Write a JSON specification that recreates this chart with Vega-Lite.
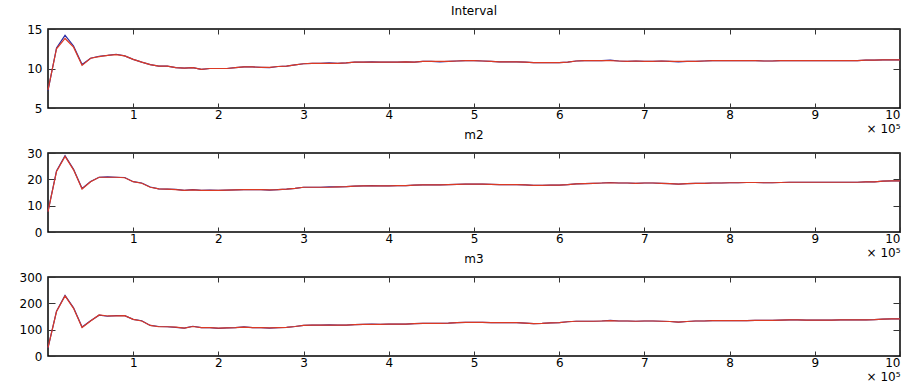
{
  "$schema": "https://vega.github.io/schema/vega-lite/v6.json",
  "padding": {"left": 18, "top": 4, "right": 2, "bottom": 0},
  "config": {
    "font": "DejaVu Sans",
    "view": {"stroke": "#000", "strokeWidth": 1.5},
    "axis": {"domain": false, "grid": false, "tickColor": "#333", "tickWidth": 1, "labelFontSize": 12, "labelColor": "#000", "labelFont": "DejaVu Sans"},
    "title": {"fontSize": 12, "fontWeight": "normal", "font": "DejaVu Sans", "offset": 5, "color": "#000"},
    "concat": {"spacing": -7}
  },
  "datasets": {
    "d": [
      {"x": 0, "int_blue": 7.2, "int_red": 7.3, "m2_blue": 7.8, "m2_red": 7.7, "m3_blue": 31, "m3_red": 32},
      {"x": 10000, "int_blue": 12.6, "int_red": 12.5, "m2_blue": 23.2, "m2_red": 23.0, "m3_blue": 170, "m3_red": 169},
      {"x": 20000, "int_blue": 14.2, "int_red": 13.8, "m2_blue": 29.0, "m2_red": 28.7, "m3_blue": 230, "m3_red": 228},
      {"x": 30000, "int_blue": 12.85, "int_red": 12.7, "m2_blue": 23.8, "m2_red": 23.6, "m3_blue": 183, "m3_red": 181},
      {"x": 40000, "int_blue": 10.5, "int_red": 10.4, "m2_blue": 16.5, "m2_red": 16.3, "m3_blue": 110, "m3_red": 108},
      {"x": 50000, "int_blue": 11.3, "int_red": 11.3, "m2_blue": 19.2, "m2_red": 19.1, "m3_blue": 134, "m3_red": 133},
      {"x": 60000, "int_blue": 11.55, "int_red": 11.5, "m2_blue": 20.8, "m2_red": 20.8, "m3_blue": 155, "m3_red": 156},
      {"x": 70000, "int_blue": 11.65, "int_red": 11.65, "m2_blue": 20.9, "m2_red": 20.8, "m3_blue": 151, "m3_red": 152},
      {"x": 80000, "int_blue": 11.8, "int_red": 11.75, "m2_blue": 20.8, "m2_red": 20.8, "m3_blue": 153, "m3_red": 152},
      {"x": 90000, "int_blue": 11.6, "int_red": 11.6, "m2_blue": 20.7, "m2_red": 20.6, "m3_blue": 153, "m3_red": 153},
      {"x": 100000, "int_blue": 11.15, "int_red": 11.15, "m2_blue": 19.1, "m2_red": 19.1, "m3_blue": 139, "m3_red": 139},
      {"x": 110000, "int_blue": 10.8, "int_red": 10.8, "m2_blue": 18.6, "m2_red": 18.5, "m3_blue": 134, "m3_red": 133},
      {"x": 120000, "int_blue": 10.5, "int_red": 10.5, "m2_blue": 17.1, "m2_red": 17.0, "m3_blue": 116, "m3_red": 116},
      {"x": 130000, "int_blue": 10.3, "int_red": 10.3, "m2_blue": 16.4, "m2_red": 16.4, "m3_blue": 112, "m3_red": 111},
      {"x": 140000, "int_blue": 10.3, "int_red": 10.3, "m2_blue": 16.3, "m2_red": 16.3, "m3_blue": 111, "m3_red": 111},
      {"x": 150000, "int_blue": 10.1, "int_red": 10.1, "m2_blue": 16.2, "m2_red": 16.1, "m3_blue": 109, "m3_red": 110},
      {"x": 160000, "int_blue": 10.05, "int_red": 10.05, "m2_blue": 15.8, "m2_red": 15.8, "m3_blue": 106, "m3_red": 106},
      {"x": 170000, "int_blue": 10.1, "int_red": 10.1, "m2_blue": 16.1, "m2_red": 16.0, "m3_blue": 113, "m3_red": 112},
      {"x": 180000, "int_blue": 9.9, "int_red": 9.9, "m2_blue": 15.8, "m2_red": 15.8, "m3_blue": 108, "m3_red": 108},
      {"x": 190000, "int_blue": 10.0, "int_red": 10.0, "m2_blue": 15.9, "m2_red": 15.8, "m3_blue": 108, "m3_red": 108},
      {"x": 200000, "int_blue": 10.0, "int_red": 10.0, "m2_blue": 15.8, "m2_red": 15.8, "m3_blue": 105, "m3_red": 106},
      {"x": 210000, "int_blue": 10.0, "int_red": 10.0, "m2_blue": 15.9, "m2_red": 15.9, "m3_blue": 107, "m3_red": 107},
      {"x": 220000, "int_blue": 10.1, "int_red": 10.1, "m2_blue": 16.0, "m2_red": 16.0, "m3_blue": 108, "m3_red": 108},
      {"x": 230000, "int_blue": 10.2, "int_red": 10.2, "m2_blue": 16.1, "m2_red": 16.1, "m3_blue": 111, "m3_red": 110},
      {"x": 240000, "int_blue": 10.2, "int_red": 10.2, "m2_blue": 16.1, "m2_red": 16.1, "m3_blue": 108, "m3_red": 108},
      {"x": 250000, "int_blue": 10.15, "int_red": 10.15, "m2_blue": 16.1, "m2_red": 16.1, "m3_blue": 108, "m3_red": 108},
      {"x": 260000, "int_blue": 10.1, "int_red": 10.15, "m2_blue": 15.9, "m2_red": 16.0, "m3_blue": 106, "m3_red": 107},
      {"x": 270000, "int_blue": 10.25, "int_red": 10.25, "m2_blue": 16.1, "m2_red": 16.1, "m3_blue": 108, "m3_red": 108},
      {"x": 280000, "int_blue": 10.3, "int_red": 10.3, "m2_blue": 16.3, "m2_red": 16.3, "m3_blue": 109, "m3_red": 109},
      {"x": 290000, "int_blue": 10.45, "int_red": 10.45, "m2_blue": 16.6, "m2_red": 16.6, "m3_blue": 112, "m3_red": 112},
      {"x": 300000, "int_blue": 10.6, "int_red": 10.6, "m2_blue": 17.0, "m2_red": 17.0, "m3_blue": 116, "m3_red": 116},
      {"x": 310000, "int_blue": 10.65, "int_red": 10.65, "m2_blue": 17.0, "m2_red": 17.0, "m3_blue": 117, "m3_red": 117},
      {"x": 320000, "int_blue": 10.65, "int_red": 10.65, "m2_blue": 17.0, "m2_red": 17.0, "m3_blue": 117, "m3_red": 117},
      {"x": 330000, "int_blue": 10.7, "int_red": 10.65, "m2_blue": 17.1, "m2_red": 17.0, "m3_blue": 118, "m3_red": 117},
      {"x": 340000, "int_blue": 10.65, "int_red": 10.65, "m2_blue": 17.1, "m2_red": 17.1, "m3_blue": 117, "m3_red": 117},
      {"x": 350000, "int_blue": 10.7, "int_red": 10.7, "m2_blue": 17.2, "m2_red": 17.2, "m3_blue": 117, "m3_red": 117},
      {"x": 360000, "int_blue": 10.8, "int_red": 10.8, "m2_blue": 17.4, "m2_red": 17.4, "m3_blue": 119, "m3_red": 119},
      {"x": 370000, "int_blue": 10.8, "int_red": 10.8, "m2_blue": 17.5, "m2_red": 17.5, "m3_blue": 120, "m3_red": 120},
      {"x": 380000, "int_blue": 10.85, "int_red": 10.8, "m2_blue": 17.6, "m2_red": 17.5, "m3_blue": 121, "m3_red": 120},
      {"x": 390000, "int_blue": 10.8, "int_red": 10.8, "m2_blue": 17.5, "m2_red": 17.5, "m3_blue": 120, "m3_red": 120},
      {"x": 400000, "int_blue": 10.8, "int_red": 10.8, "m2_blue": 17.5, "m2_red": 17.5, "m3_blue": 121, "m3_red": 121},
      {"x": 410000, "int_blue": 10.8, "int_red": 10.8, "m2_blue": 17.6, "m2_red": 17.6, "m3_blue": 121, "m3_red": 121},
      {"x": 420000, "int_blue": 10.85, "int_red": 10.85, "m2_blue": 17.6, "m2_red": 17.6, "m3_blue": 121, "m3_red": 121},
      {"x": 430000, "int_blue": 10.8, "int_red": 10.8, "m2_blue": 17.8, "m2_red": 17.8, "m3_blue": 123, "m3_red": 123},
      {"x": 440000, "int_blue": 10.9, "int_red": 10.9, "m2_blue": 17.9, "m2_red": 17.9, "m3_blue": 124, "m3_red": 124},
      {"x": 450000, "int_blue": 10.9, "int_red": 10.9, "m2_blue": 17.9, "m2_red": 17.9, "m3_blue": 124, "m3_red": 124},
      {"x": 460000, "int_blue": 10.85, "int_red": 10.9, "m2_blue": 17.9, "m2_red": 17.9, "m3_blue": 124, "m3_red": 124},
      {"x": 470000, "int_blue": 10.9, "int_red": 10.9, "m2_blue": 18.0, "m2_red": 18.0, "m3_blue": 125, "m3_red": 125},
      {"x": 480000, "int_blue": 10.95, "int_red": 10.95, "m2_blue": 18.1, "m2_red": 18.1, "m3_blue": 127, "m3_red": 127},
      {"x": 490000, "int_blue": 11.0, "int_red": 11.0, "m2_blue": 18.2, "m2_red": 18.2, "m3_blue": 128, "m3_red": 128},
      {"x": 500000, "int_blue": 11.0, "int_red": 11.0, "m2_blue": 18.2, "m2_red": 18.2, "m3_blue": 128, "m3_red": 128},
      {"x": 510000, "int_blue": 10.95, "int_red": 10.95, "m2_blue": 18.2, "m2_red": 18.2, "m3_blue": 128, "m3_red": 128},
      {"x": 520000, "int_blue": 10.9, "int_red": 10.9, "m2_blue": 18.1, "m2_red": 18.1, "m3_blue": 127, "m3_red": 127},
      {"x": 530000, "int_blue": 10.85, "int_red": 10.85, "m2_blue": 18.0, "m2_red": 18.0, "m3_blue": 127, "m3_red": 127},
      {"x": 540000, "int_blue": 10.85, "int_red": 10.85, "m2_blue": 18.0, "m2_red": 18.0, "m3_blue": 127, "m3_red": 127},
      {"x": 550000, "int_blue": 10.85, "int_red": 10.85, "m2_blue": 18.0, "m2_red": 18.0, "m3_blue": 127, "m3_red": 127},
      {"x": 560000, "int_blue": 10.8, "int_red": 10.8, "m2_blue": 17.9, "m2_red": 17.9, "m3_blue": 125, "m3_red": 125},
      {"x": 570000, "int_blue": 10.75, "int_red": 10.75, "m2_blue": 17.7, "m2_red": 17.7, "m3_blue": 123, "m3_red": 123},
      {"x": 580000, "int_blue": 10.75, "int_red": 10.75, "m2_blue": 17.7, "m2_red": 17.7, "m3_blue": 124, "m3_red": 124},
      {"x": 590000, "int_blue": 10.75, "int_red": 10.75, "m2_blue": 17.8, "m2_red": 17.8, "m3_blue": 126, "m3_red": 126},
      {"x": 600000, "int_blue": 10.75, "int_red": 10.75, "m2_blue": 17.8, "m2_red": 17.8, "m3_blue": 127, "m3_red": 127},
      {"x": 610000, "int_blue": 10.8, "int_red": 10.8, "m2_blue": 18.0, "m2_red": 18.0, "m3_blue": 130, "m3_red": 130},
      {"x": 620000, "int_blue": 10.95, "int_red": 10.95, "m2_blue": 18.3, "m2_red": 18.3, "m3_blue": 132, "m3_red": 132},
      {"x": 630000, "int_blue": 11.0, "int_red": 11.0, "m2_blue": 18.4, "m2_red": 18.4, "m3_blue": 132, "m3_red": 132},
      {"x": 640000, "int_blue": 11.0, "int_red": 11.0, "m2_blue": 18.5, "m2_red": 18.5, "m3_blue": 132, "m3_red": 132},
      {"x": 650000, "int_blue": 11.0, "int_red": 11.0, "m2_blue": 18.6, "m2_red": 18.6, "m3_blue": 133, "m3_red": 133},
      {"x": 660000, "int_blue": 11.05, "int_red": 11.0, "m2_blue": 18.8, "m2_red": 18.7, "m3_blue": 135, "m3_red": 134},
      {"x": 670000, "int_blue": 10.95, "int_red": 10.95, "m2_blue": 18.6, "m2_red": 18.6, "m3_blue": 133, "m3_red": 133},
      {"x": 680000, "int_blue": 10.9, "int_red": 10.9, "m2_blue": 18.6, "m2_red": 18.6, "m3_blue": 133, "m3_red": 133},
      {"x": 690000, "int_blue": 10.95, "int_red": 10.95, "m2_blue": 18.5, "m2_red": 18.5, "m3_blue": 132, "m3_red": 132},
      {"x": 700000, "int_blue": 10.9, "int_red": 10.9, "m2_blue": 18.6, "m2_red": 18.6, "m3_blue": 133, "m3_red": 133},
      {"x": 710000, "int_blue": 10.9, "int_red": 10.9, "m2_blue": 18.6, "m2_red": 18.6, "m3_blue": 133, "m3_red": 133},
      {"x": 720000, "int_blue": 10.95, "int_red": 10.95, "m2_blue": 18.5, "m2_red": 18.5, "m3_blue": 132, "m3_red": 132},
      {"x": 730000, "int_blue": 10.9, "int_red": 10.9, "m2_blue": 18.4, "m2_red": 18.4, "m3_blue": 131, "m3_red": 131},
      {"x": 740000, "int_blue": 10.85, "int_red": 10.9, "m2_blue": 18.2, "m2_red": 18.2, "m3_blue": 129, "m3_red": 129},
      {"x": 750000, "int_blue": 10.9, "int_red": 10.9, "m2_blue": 18.4, "m2_red": 18.4, "m3_blue": 131, "m3_red": 131},
      {"x": 760000, "int_blue": 10.9, "int_red": 10.9, "m2_blue": 18.5, "m2_red": 18.5, "m3_blue": 133, "m3_red": 133},
      {"x": 770000, "int_blue": 10.95, "int_red": 10.95, "m2_blue": 18.5, "m2_red": 18.5, "m3_blue": 133, "m3_red": 133},
      {"x": 780000, "int_blue": 11.0, "int_red": 11.0, "m2_blue": 18.6, "m2_red": 18.6, "m3_blue": 134, "m3_red": 134},
      {"x": 790000, "int_blue": 11.0, "int_red": 11.0, "m2_blue": 18.6, "m2_red": 18.6, "m3_blue": 134, "m3_red": 134},
      {"x": 800000, "int_blue": 11.0, "int_red": 11.0, "m2_blue": 18.7, "m2_red": 18.7, "m3_blue": 134, "m3_red": 134},
      {"x": 810000, "int_blue": 11.0, "int_red": 11.0, "m2_blue": 18.7, "m2_red": 18.7, "m3_blue": 134, "m3_red": 134},
      {"x": 820000, "int_blue": 11.0, "int_red": 11.0, "m2_blue": 18.8, "m2_red": 18.8, "m3_blue": 134, "m3_red": 134},
      {"x": 830000, "int_blue": 11.0, "int_red": 11.0, "m2_blue": 18.8, "m2_red": 18.8, "m3_blue": 135, "m3_red": 135},
      {"x": 840000, "int_blue": 10.95, "int_red": 10.95, "m2_blue": 18.7, "m2_red": 18.7, "m3_blue": 135, "m3_red": 135},
      {"x": 850000, "int_blue": 10.95, "int_red": 10.95, "m2_blue": 18.7, "m2_red": 18.7, "m3_blue": 135, "m3_red": 135},
      {"x": 860000, "int_blue": 11.0, "int_red": 11.0, "m2_blue": 18.8, "m2_red": 18.8, "m3_blue": 136, "m3_red": 136},
      {"x": 870000, "int_blue": 11.0, "int_red": 11.0, "m2_blue": 18.9, "m2_red": 18.9, "m3_blue": 137, "m3_red": 137},
      {"x": 880000, "int_blue": 11.0, "int_red": 11.0, "m2_blue": 18.9, "m2_red": 18.9, "m3_blue": 137, "m3_red": 137},
      {"x": 890000, "int_blue": 11.0, "int_red": 11.0, "m2_blue": 18.9, "m2_red": 18.9, "m3_blue": 136, "m3_red": 136},
      {"x": 900000, "int_blue": 11.0, "int_red": 11.0, "m2_blue": 18.9, "m2_red": 18.9, "m3_blue": 136, "m3_red": 136},
      {"x": 910000, "int_blue": 11.0, "int_red": 11.0, "m2_blue": 18.9, "m2_red": 18.9, "m3_blue": 136, "m3_red": 136},
      {"x": 920000, "int_blue": 11.0, "int_red": 11.0, "m2_blue": 18.9, "m2_red": 18.9, "m3_blue": 136, "m3_red": 136},
      {"x": 930000, "int_blue": 11.0, "int_red": 11.0, "m2_blue": 18.9, "m2_red": 18.9, "m3_blue": 137, "m3_red": 137},
      {"x": 940000, "int_blue": 11.0, "int_red": 11.0, "m2_blue": 18.9, "m2_red": 18.9, "m3_blue": 137, "m3_red": 137},
      {"x": 950000, "int_blue": 11.0, "int_red": 11.0, "m2_blue": 18.9, "m2_red": 18.9, "m3_blue": 137, "m3_red": 137},
      {"x": 960000, "int_blue": 11.05, "int_red": 11.05, "m2_blue": 19.0, "m2_red": 19.0, "m3_blue": 137, "m3_red": 137},
      {"x": 970000, "int_blue": 11.05, "int_red": 11.05, "m2_blue": 19.0, "m2_red": 19.0, "m3_blue": 138, "m3_red": 138},
      {"x": 980000, "int_blue": 11.1, "int_red": 11.1, "m2_blue": 19.3, "m2_red": 19.3, "m3_blue": 140, "m3_red": 140},
      {"x": 990000, "int_blue": 11.1, "int_red": 11.1, "m2_blue": 19.4, "m2_red": 19.4, "m3_blue": 141, "m3_red": 141},
      {"x": 1000000, "int_blue": 11.1, "int_red": 11.1, "m2_blue": 19.4, "m2_red": 19.4, "m3_blue": 141, "m3_red": 141}
    ]
  },
  "vconcat": [
    {
      "title": {"text": "Interval"},
      "width": 852, "height": 79,
      "data": {"name": "d"},
      "layer": [
        {
          "mark": {"type": "line", "strokeWidth": 1.2, "color": "#2b2ba3"},
          "encoding": {
            "x": {"field": "x", "type": "quantitative", "scale": {"domain": [0, 1000000], "nice": false},
              "axis": {"orient": "bottom", "values": [100000, 200000, 300000, 400000, 500000, 600000, 700000, 800000, 900000, 1000000], "labelExpr": "datum.value / 100000", "tickSize": -5, "labelPadding": 6, "title": "× 10⁵", "titleAnchor": "end", "titleFontSize": 12, "titleFontWeight": "normal", "titlePadding": 3, "titleFont": "DejaVu Sans"}},
            "y": {"field": "int_blue", "type": "quantitative", "scale": {"domain": [5, 15], "nice": false},
              "axis": {"orient": "left", "values": [5, 10, 15], "tickSize": -7, "labelPadding": 13, "title": null}}
          }
        },
        {
          "mark": {"type": "line", "strokeWidth": 1.2, "color": "#dc3a24"},
          "encoding": {
            "x": {"field": "x", "type": "quantitative", "axis": {"orient": "top", "values": [100000, 200000, 300000, 400000, 500000, 600000, 700000, 800000, 900000], "labels": false, "tickSize": -5, "title": null}},
            "y": {"field": "int_red", "type": "quantitative", "axis": {"orient": "right", "values": [5, 10, 15], "labels": false, "tickSize": -7, "title": null}}
          }
        }
      ],
      "resolve": {"axis": {"x": "independent", "y": "independent"}}
    },
    {
      "title": {"text": "m2"},
      "width": 852, "height": 79,
      "data": {"name": "d"},
      "layer": [
        {
          "mark": {"type": "line", "strokeWidth": 1.2, "color": "#2b2ba3"},
          "encoding": {
            "x": {"field": "x", "type": "quantitative", "scale": {"domain": [0, 1000000], "nice": false},
              "axis": {"orient": "bottom", "values": [100000, 200000, 300000, 400000, 500000, 600000, 700000, 800000, 900000, 1000000], "labelExpr": "datum.value / 100000", "tickSize": -5, "labelPadding": 6, "title": "× 10⁵", "titleAnchor": "end", "titleFontSize": 12, "titleFontWeight": "normal", "titlePadding": 3, "titleFont": "DejaVu Sans"}},
            "y": {"field": "m2_blue", "type": "quantitative", "scale": {"domain": [0, 30], "nice": false},
              "axis": {"orient": "left", "values": [0, 10, 20, 30], "tickSize": -7, "labelPadding": 13, "title": null}}
          }
        },
        {
          "mark": {"type": "line", "strokeWidth": 1.2, "color": "#dc3a24"},
          "encoding": {
            "x": {"field": "x", "type": "quantitative", "axis": {"orient": "top", "values": [100000, 200000, 300000, 400000, 500000, 600000, 700000, 800000, 900000], "labels": false, "tickSize": -5, "title": null}},
            "y": {"field": "m2_red", "type": "quantitative", "axis": {"orient": "right", "values": [0, 10, 20, 30], "labels": false, "tickSize": -7, "title": null}}
          }
        }
      ],
      "resolve": {"axis": {"x": "independent", "y": "independent"}}
    },
    {
      "title": {"text": "m3"},
      "width": 852, "height": 79,
      "data": {"name": "d"},
      "layer": [
        {
          "mark": {"type": "line", "strokeWidth": 1.2, "color": "#2b2ba3"},
          "encoding": {
            "x": {"field": "x", "type": "quantitative", "scale": {"domain": [0, 1000000], "nice": false},
              "axis": {"orient": "bottom", "values": [100000, 200000, 300000, 400000, 500000, 600000, 700000, 800000, 900000, 1000000], "labelExpr": "datum.value / 100000", "tickSize": -5, "labelPadding": 6, "title": "× 10⁵", "titleAnchor": "end", "titleFontSize": 12, "titleFontWeight": "normal", "titlePadding": 3, "titleFont": "DejaVu Sans"}},
            "y": {"field": "m3_blue", "type": "quantitative", "scale": {"domain": [0, 300], "nice": false},
              "axis": {"orient": "left", "values": [0, 100, 200, 300], "tickSize": -7, "labelPadding": 13, "title": null}}
          }
        },
        {
          "mark": {"type": "line", "strokeWidth": 1.2, "color": "#dc3a24"},
          "encoding": {
            "x": {"field": "x", "type": "quantitative", "axis": {"orient": "top", "values": [100000, 200000, 300000, 400000, 500000, 600000, 700000, 800000, 900000], "labels": false, "tickSize": -5, "title": null}},
            "y": {"field": "m3_red", "type": "quantitative", "axis": {"orient": "right", "values": [0, 100, 200, 300], "labels": false, "tickSize": -7, "title": null}}
          }
        }
      ],
      "resolve": {"axis": {"x": "independent", "y": "independent"}}
    }
  ]
}
